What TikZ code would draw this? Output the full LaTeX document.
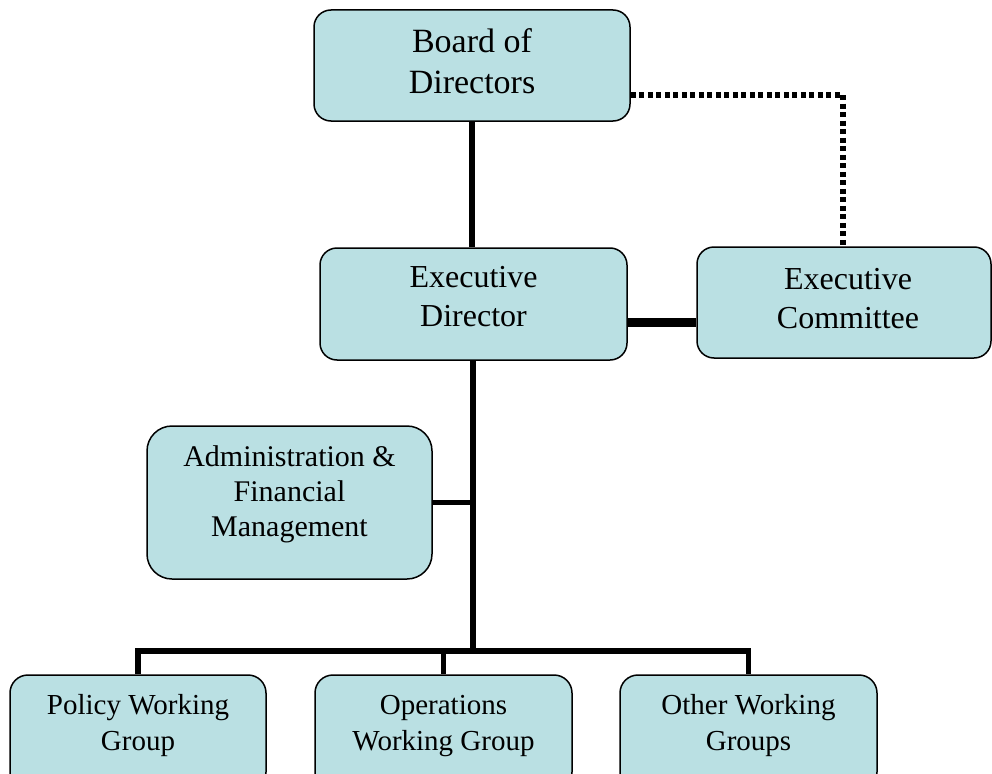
\documentclass[tikz,border=0pt]{standalone}
\usepackage{fontspec}
\setmainfont{Liberation Serif}
\definecolor{boxfill}{RGB}{186,224,227}
\tikzset{
  orgbox/.style={draw=black, line width=1.5pt, fill=boxfill, inner sep=0pt},
  txt/.style={align=center, inner sep=0pt, text=black},
  conn/.style={draw=black, line width=5.5pt, line join=miter},
  heavyconn/.style={draw=black, line width=9pt},
  dotconn/.style={draw=black, line width=5.5pt, dash pattern=on 5pt off 3.5pt},
}
\begin{document}
\begin{tikzpicture}[x=1pt,y=-1pt]
\useasboundingbox (0,0) rectangle (992,773);
% boxes
\node[orgbox, rounded corners=17pt, minimum width=316pt, minimum height=111pt] (board) at (472,65.5) {};
\node[orgbox, rounded corners=17pt, minimum width=307pt, minimum height=112pt] (ed) at (473.5,304) {};
\node[orgbox, rounded corners=17pt, minimum width=294pt, minimum height=111pt] (comm) at (844,302.5) {};
\node[orgbox, rounded corners=25pt, minimum width=285pt, minimum height=153pt] (adm) at (289.5,502.5) {};
\node[orgbox, rounded corners=18pt, minimum width=256pt, minimum height=115pt] (pol) at (138,732.5) {};
\node[orgbox, rounded corners=18pt, minimum width=257pt, minimum height=115pt] (ops) at (443.5,732.5) {};
\node[orgbox, rounded corners=18pt, minimum width=257pt, minimum height=115pt] (oth) at (748.5,732.5) {};
% texts
\node[txt, font=\fontsize{34}{41}\selectfont] (tboard) at (472,61) {Board of\\Directors};
\node[txt, font=\fontsize{32}{39}\selectfont] (ted) at (473.5,297) {Executive\\Director};
\node[txt, font=\fontsize{32}{39}\selectfont] (tcomm) at (848,298.5) {Executive\\Committee};
\node[txt, font=\fontsize{30}{35}\selectfont] (tadm) at (289.5,494) {Administration \&\\Financial\\Management};
\node[txt, font=\fontsize{29}{36}\selectfont] (tpol) at (138,726) {Policy Working\\Group};
\node[txt, font=\fontsize{29}{36}\selectfont] (tops) at (443.5,726) {Operations\\Working Group};
\node[txt, font=\fontsize{29}{36}\selectfont] (toth) at (748.5,726) {Other Working\\Groups};
% helper coordinates
\coordinate (dcorner) at (843,95);
\coordinate (edc) at (0,322.5);
\coordinate (bus) at (473,651);
% connectors
\draw[conn] (board.south) -- (board.south |- ed.north);
\draw[dotconn] (board.east |- dcorner) -- (dcorner) -- (dcorner |- comm.north);
\draw[heavyconn] (ed.east |- edc) -- (comm.west |- edc);
\draw[conn] (ed.south -| bus) -- (bus);
\draw[conn] (adm.east) -- (adm.east -| bus);
\draw[conn] (pol.north) -- (pol.north |- bus) -- (oth.north |- bus) -- (oth.north);
\draw[conn] (ops.north |- bus) -- (ops.north);
\end{tikzpicture}
\end{document}
